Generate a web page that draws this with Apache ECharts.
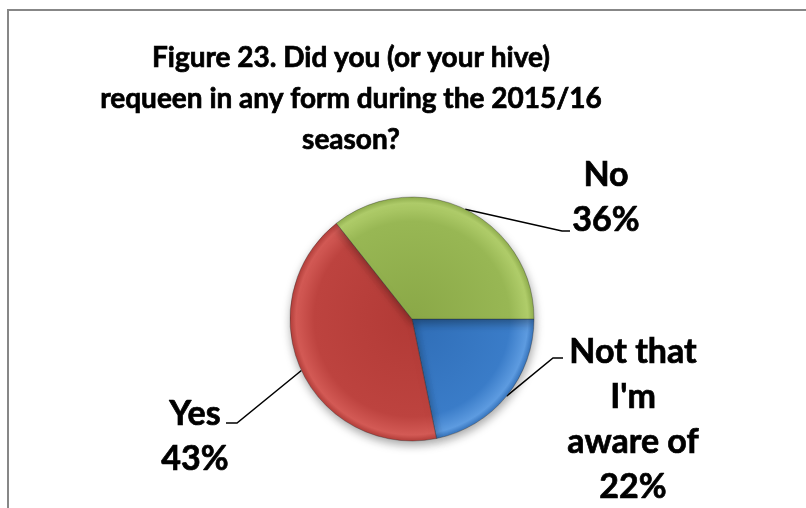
<!DOCTYPE html>
<html><head><meta charset="utf-8">
<script src="https://cdn.jsdelivr.net/npm/echarts@6/dist/echarts.min.js"></script>
<style>html,body{margin:0;padding:0;background:#fff}#c{width:806px;height:508px}</style>
</head><body><div id="c"></div>
<script>
// ---- data ----
const titleText = 'Figure 23. Did you (or your hive)\nrequeen in any form during the 2015/16\nseason?';
const categories = ["Not that\nI'm\naware of", 'Yes', 'No'];
const values = [22, 43, 36];

// ---- styles / layout ----
const CX = 412, CY = 319, R = 122;
const sliceColors = [
  ['#2f6db6', '#3a7cc8', '#5d9be0', '#3674bd'],
  ['#b23a36', '#bd433f', '#d35a55', '#b33e3a'],
  ['#8aa847', '#98b754', '#b0cd6a', '#90ae4d']
];
// label block centres and leader-line geometry (layout only)
const labelCentres = [[633, 420], [195, 437], [606, 198]];
const leaderElbows = [[553, 358], [237, 423], [562, 231]];
const leaderEnds = [[563, 358], [226, 423], [570, 231]];

const chart = echarts.init(document.getElementById('c'), null, {renderer: 'canvas'});

const seriesData = categories.map((name, i) => ({
  name: name,
  value: values[i],
  itemStyle: {
    color: {
      type: 'radial', x: CX, y: CY, r: R, global: true,
      colorStops: [
        {offset: 0, color: sliceColors[i][0]},
        {offset: 0.8, color: sliceColors[i][1]},
        {offset: 0.95, color: sliceColors[i][2]},
        {offset: 1, color: sliceColors[i][3]}
      ]
    }
  }
}));

chart.setOption({
  animation: false,
  backgroundColor: '#ffffff',
  graphic: [
    {
      type: 'rect', silent: true,
      shape: {x: 8, y: 10, width: 900, height: 600},
      style: {fill: 'none', stroke: '#878787', lineWidth: 2}
    },
    {
      type: 'text', x: 351, y: 37,
      style: {
        text: titleText, align: 'center', verticalAlign: 'top',
        fontFamily: 'Lato', fontWeight: 'bold', fontSize: 28, lineHeight: 41,
        fill: '#000', stroke: '#000', lineWidth: 0.7
      }
    }
  ],
  series: [{
    type: 'pie',
    center: [CX, CY],
    radius: R,
    startAngle: 0,
    clockwise: true,
    data: seriesData,
    itemStyle: {
      borderColor: 'rgba(40,40,40,0.35)', borderWidth: 1,
      shadowBlur: 10, shadowColor: 'rgba(0,0,0,0.35)', shadowOffsetX: 1, shadowOffsetY: 4
    },
    emphasis: {disabled: true},
    label: {
      show: true, position: 'outside',
      formatter: '{b}\n{c}%',
      fontFamily: 'Lato', fontWeight: 'bold', fontSize: 34, lineHeight: 45,
      color: '#000', textBorderColor: '#000', textBorderWidth: 0.7
    },
    labelLine: {show: true, length: 20, length2: 20, smooth: false,
      lineStyle: {color: '#000', width: 1.5}},
    labelLayout: function (params) {
      const i = params.dataIndex;
      const p0 = params.labelLinePoints ? params.labelLinePoints[0] : leaderElbows[i];
      return {
        x: labelCentres[i][0], y: labelCentres[i][1],
        align: 'center', verticalAlign: 'middle',
        labelLinePoints: [p0, leaderElbows[i], leaderEnds[i]]
      };
    }
  }]
});
</script>
</body></html>
